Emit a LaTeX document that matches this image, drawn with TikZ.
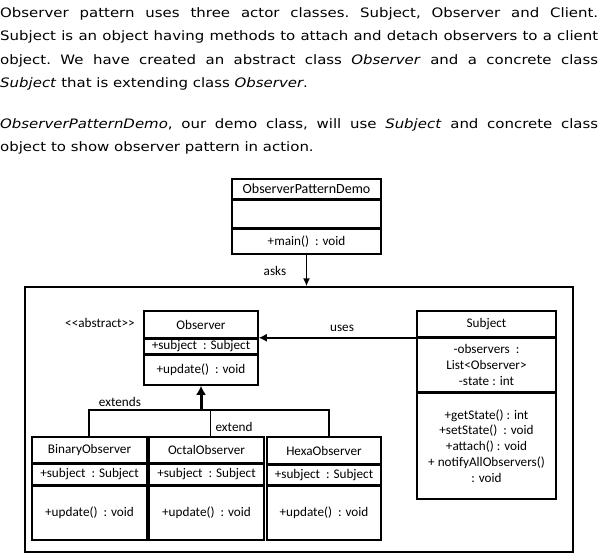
\documentclass[tikz,border=0pt]{standalone}
\usepackage{fontspec}
\setmainfont[FakeStretch=1.15]{DejaVu Sans}
\newfontfamily\umlfont{Carlito}
\usetikzlibrary{arrows.meta}
\begin{document}
\begin{tikzpicture}[x=1pt,y=-1pt,
    compart/.style={draw, line width=1.5pt, inner sep=0pt, align=center,
      font=\umlfont\fontsize{13.2}{15.8}\selectfont},
    tag/.style={inner sep=0pt, font=\umlfont\fontsize{13.2}{15.8}\selectfont},
    link/.style={line width=1.5pt},
    intro/.style={anchor=north west, inner sep=0pt, text width=598pt, align=justify,
      font=\fontsize{13}{23.4}\selectfont}]
       \useasboundingbox (0,0) rectangle (601,559);
       % text above the diagram
       \node[intro] (intro-a) at (0,7.5) {\frenchspacing\hyphenpenalty=10000 Observer pattern uses three actor classes. Subject, Observer and Client.\linebreak Subject is an object having methods to attach and detach observers to a client\linebreak object. We have created an abstract class \textit{Observer} and a concrete class\linebreak \textit{Subject} that is extending class \textit{Observer}.};
       \node[intro] (intro-b) at (0,118.5) {\frenchspacing\hyphenpenalty=10000 \textit{ObserverPatternDemo}, our demo class, will use \textit{Subject} and concrete class\linebreak object to show observer pattern in action.};
       % frame
       \node[draw, line width=1.5pt, minimum width=548pt, minimum height=265pt] (frame) at (299,419.5) {};
       % demo class
       \node[compart, minimum width=149pt, minimum height=20pt, font=\umlfont\fontsize{14}{16}\selectfont] (demo-name) at (306.5,189) {ObserverPatternDemo};
       \node[compart, minimum width=149pt, minimum height=27pt, anchor=north] (demo-attr) at (demo-name.south) {};
       \node[compart, minimum width=149pt, minimum height=25pt, anchor=north] (demo-ops) at (demo-attr.south) {+main()~ : void};
       % observer
       \node[compart, minimum width=114pt, minimum height=27pt] (obs-name) at (201,324.5) {Observer};
       \node[compart, minimum width=114pt, minimum height=14pt, anchor=north] (obs-attr) at (obs-name.south) {+subject~ : Subject};
       \node[compart, minimum width=114pt, minimum height=30pt, anchor=north] (obs-ops) at (obs-attr.south) {+update()~ : void};
       \node[tag] (abstract-tag) at (100,323) {<<abstract>>};
       % subject
       \node[compart, minimum width=139pt, minimum height=26pt] (subj-name) at (486.5,324) {Subject};
       \node[compart, minimum width=139pt, minimum height=53pt, anchor=north] (subj-attr) at (subj-name.south) {-observers~ :\\ List<Observer>\\ -state : int};
       \node[compart, minimum width=139pt, minimum height=106pt, anchor=north] (subj-ops) at (subj-attr.south) {+getState() : int\\ +setState()~ : void\\ +attach() : void\\ + notifyAllObservers()\\ : void};
       % concrete observers
       \node[compart, minimum width=115pt, minimum height=26pt] (bin-name) at (89.5,450) {BinaryObserver};
       \node[compart, minimum width=115pt, minimum height=20pt, anchor=north] (bin-attr) at (bin-name.south) {+subject~ : Subject};
       \node[compart, minimum width=115pt, minimum height=54pt, anchor=north] (bin-ops) at (bin-attr.south) {+update()~ : void};
       \node[compart, minimum width=115pt, minimum height=26pt] (oct-name) at (206.5,450) {OctalObserver};
       \node[compart, minimum width=115pt, minimum height=20pt, anchor=north] (oct-attr) at (oct-name.south) {+subject~ : Subject};
       \node[compart, minimum width=115pt, minimum height=54pt, anchor=north] (oct-ops) at (oct-attr.south) {+update()~ : void};
       \node[compart, minimum width=114pt, minimum height=27pt] (hexa-name) at (324,450.5) {HexaObserver};
       \node[compart, minimum width=114pt, minimum height=19pt, anchor=north] (hexa-attr) at (hexa-name.south) {+subject~ : Subject};
       \node[compart, minimum width=114pt, minimum height=54pt, anchor=north] (hexa-ops) at (hexa-attr.south) {+update()~ : void};
       % connectors
       \draw[link, -{Latex[length=8pt,width=7pt]}] (demo-ops.south) -- (demo-ops.south |- frame.north);
       \node[tag] (asks-tag) at (275,271) {asks};
       \draw[link, -{Latex[length=8pt,width=8pt]}] (subj-name.south west) -- (subj-name.south west -| obs-name.east);
       \node[tag] (uses-tag) at (342,328) {uses};
       \coordinate (ext-left) at (89,410);
       \coordinate (ext-mid) at (201,410);
       \coordinate (ext-oct) at (210.5,410);
       \coordinate (ext-right) at (329,410);
       \draw[line width=3pt, -{Latex[length=9pt,width=10pt]}] (ext-mid) -- (obs-ops.south);
       \draw[link] (ext-left |- bin-name.north) -- (ext-left) -- (ext-right) -- (ext-right |- hexa-name.north);
       \draw[link] (ext-oct) -- (ext-oct |- oct-name.north);
       \node[tag] (extends-tag) at (120,402) {extends};
       \node[tag] (extend-tag) at (234,427) {extend};
    \end{tikzpicture}
\end{document}
